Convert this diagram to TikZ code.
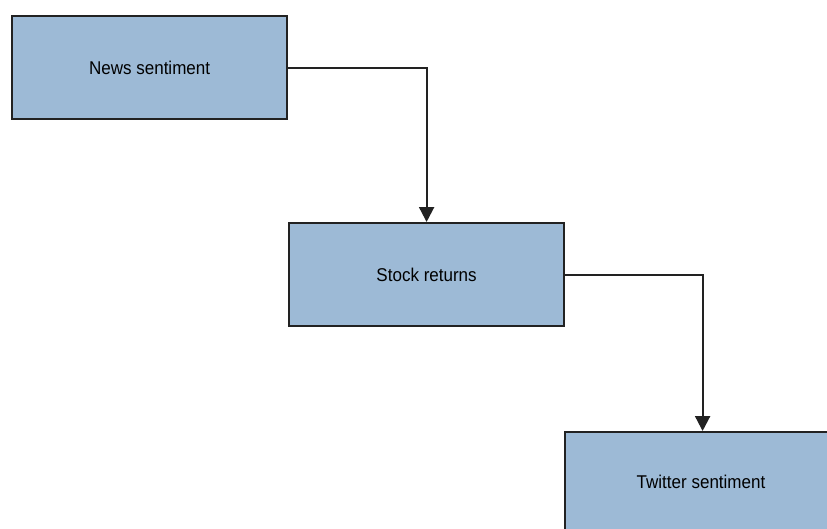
\documentclass[tikz,border=0pt]{standalone}
\usepackage{fontspec}
\setmainfont{Liberation Sans}
\usetikzlibrary{arrows.meta}
\definecolor{boxfill}{HTML}{9DBAD6}
\definecolor{edgecol}{HTML}{222222}
\begin{document}
\begin{tikzpicture}[x=1pt,y=-1pt,
  blk/.style={draw=edgecol,line width=2.2pt,fill=boxfill,minimum width=275pt,minimum height=103pt,inner sep=0pt,anchor=north west,font=\fontsize{18.5}{20}\selectfont},
  conn/.style={draw=edgecol,line width=2.2pt,-{Triangle[width=15pt,length=15pt]}}]
\useasboundingbox (0,0) rectangle (827,528);
\clip (0,0) rectangle (827,528);
\node[blk] (news) at (11,15) {\scalebox{0.92}[1]{News sentiment}};
\node[blk] (stock) at (288,222) {\scalebox{0.92}[1]{Stock returns}};
\node[blk] (twit) at (564,431) {};
\node[font=\fontsize{18.5}{20}\selectfont] (twitlbl) at (701,482) {\scalebox{0.92}[1]{Twitter sentiment}};
\draw[conn] (news.east) -| (stock.north);
\draw[conn] (stock.east) -| (twit.north);
\end{tikzpicture}
\end{document}
